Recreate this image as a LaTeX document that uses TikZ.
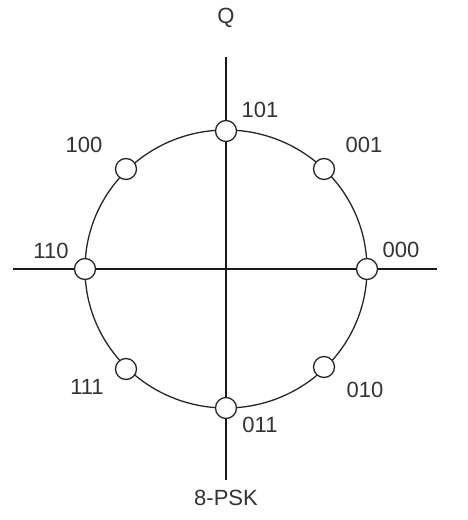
\documentclass[tikz,border=0pt]{standalone}
\usepackage{fontspec}
\setmainfont{Liberation Sans}
\begin{document}
\begin{tikzpicture}[x=1pt,y=-1pt,
  axis/.style={line width=1.5pt,black!90},
  ring/.style={line width=1.3pt,black!85},
  pt/.style={circle,draw=black!85,line width=1.3pt,fill=white,minimum size=21pt,inner sep=0pt},
  lbl/.style={font=\fontsize{22}{26}\selectfont,text=black!80,inner sep=0pt}]
\useasboundingbox (0,0) rectangle (467,520);
\coordinate (O) at (226,269);
\coordinate (L) at (13,269);
\coordinate (R) at (437,269);
\coordinate (T) at (226,57);
\coordinate (B) at (226,480);
\draw[axis] (L) -- (R);
\draw[axis] (T) -- (B);
\draw[ring] (O) ellipse [x radius=141pt, y radius=139pt];
\node[pt] (p000) at (367,269) {};
\node[pt] (p001) at (324,169) {};
\node[pt] (p101) at (226,131) {};
\node[pt] (p100) at (126,169) {};
\node[pt] (p110) at (85,269) {};
\node[pt] (p111) at (126,369) {};
\node[pt] (p011) at (226,408) {};
\node[pt] (p010) at (324,367) {};
\node[lbl] (l101) at (260,110) {101};
\node[lbl] (l001) at (364,145) {001};
\node[lbl] (l100) at (84,145) {100};
\node[lbl] (l110) at (51,251) {110};
\node[lbl] (l000) at (401,250) {000};
\node[lbl] (l111) at (87,387) {111};
\node[lbl] (l011) at (260,425) {011};
\node[lbl] (l010) at (365,390) {010};
\node[lbl] (q) at (226,18) {Q};
\node[lbl] (title) at (226,498) {8-PSK};
\end{tikzpicture}
\end{document}
